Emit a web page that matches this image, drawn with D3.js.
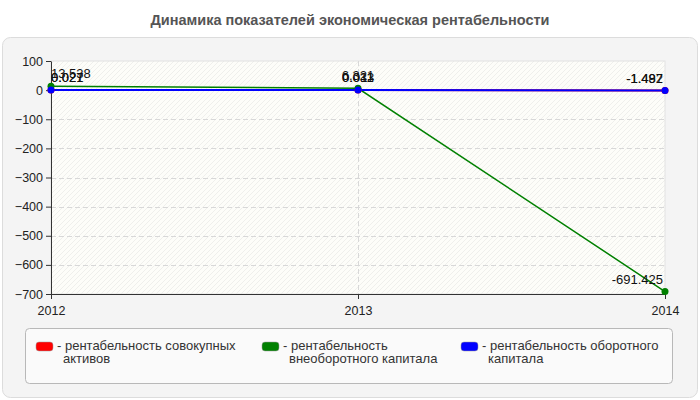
<!DOCTYPE html>
<html><head><meta charset="utf-8">
<script src="https://cdn.jsdelivr.net/npm/d3@7"></script>
<style>body{margin:0;background:#fff}svg{display:block;font-family:"Liberation Sans",Arial,sans-serif}</style>
</head><body>
<svg id="c" width="700" height="400"></svg>
<script>
const years = ["2012","2013","2014"];
const seriesNames = ["рентабельность совокупных активов","рентабельность внеоборотного капитала","рентабельность оборотного капитала"];
const seriesColors = ["#ff0000","#008000","#0000ff"];
const totalAssets = [0.027, 0.033, -1.487];
const nonCurrent = [13.538, 6.321, -691.425];
const current = [0.021, 0.011, -1.492];
const yTicks = [100,0,-100,-200,-300,-400,-500,-600,-700];
const legendLines = [["- рентабельность совокупных","активов"],["- рентабельность","внеоборотного капитала"],["- рентабельность оборотного","капитала"]];

const svg = d3.select("#c");
const series = [totalAssets, nonCurrent, current];
const M = {l:51, r:665, t:61, b:294};

svg.append("text").attr("x",350).attr("y",25).attr("text-anchor","middle")
  .attr("font-size",14.5).attr("font-weight","bold").attr("fill","#555").text("Динамика показателей экономическая рентабельности");

svg.append("rect").attr("x",2.5).attr("y",37.5).attr("width",695).attr("height",360).attr("rx",8)
  .attr("fill","#f4f4f4").attr("stroke","#dcdcdc");

const defs = svg.append("defs");
const pat = defs.append("pattern").attr("id","hatch").attr("patternUnits","userSpaceOnUse").attr("width",5).attr("height",5);
pat.append("rect").attr("width",5).attr("height",5).attr("fill","#fdfdf9");
pat.append("path").attr("d","M-1,1 l2,-2 M0,5 l5,-5 M4,6 l2,-2").attr("stroke","#efefec").attr("stroke-width",1);

const x = d3.scalePoint().domain(years).range([M.l, M.r]);
const y = d3.scaleLinear().domain([-700,100]).range([M.b, M.t]);

svg.append("rect").attr("x",M.l).attr("y",M.t).attr("width",M.r-M.l).attr("height",M.b-M.t)
  .attr("fill","url(#hatch)").attr("stroke","#e2e2e2");

// grid
svg.append("g").selectAll("line").data(yTicks.filter(d=>d!==-700 && d!==100)).join("line")
  .attr("x1",M.l).attr("x2",M.r).attr("y1",d=>Math.round(y(d))+0.5).attr("y2",d=>Math.round(y(d))+0.5)
  .attr("stroke","#d8d8d8").attr("stroke-dasharray","5,3");
svg.append("line").attr("x1",Math.round(x("2013"))+0.5).attr("x2",Math.round(x("2013"))+0.5)
  .attr("y1",M.t).attr("y2",M.b).attr("stroke","#d8d8d8").attr("stroke-dasharray","5,3");

// axes
const ya = svg.append("g").attr("transform",`translate(${M.l},0)`)
  .call(d3.axisLeft(y).tickValues(yTicks).tickSize(5).tickSizeOuter(0).tickFormat(d3.format("d")));
ya.select(".domain").attr("stroke","#333");
ya.selectAll(".tick line").attr("stroke","#333");
ya.selectAll("text").attr("font-size",12.5).attr("fill","#222").attr("font-family","Liberation Sans, Arial, sans-serif");
const xa = svg.append("g").attr("transform",`translate(0,${M.b})`)
  .call(d3.axisBottom(x).tickSize(5).tickSizeOuter(0));
xa.select(".domain").attr("stroke","#333");
xa.selectAll(".tick line").attr("stroke","#333");
xa.selectAll("text").attr("font-size",12.5).attr("fill","#222").attr("dy","1em").attr("font-family","Liberation Sans, Arial, sans-serif");

// lines
const line = d3.line().x((d,i)=>x(years[i])).y(d=>y(d));
series.forEach((s,k)=>{
  svg.append("path").datum(s).attr("d",line).attr("fill","none").attr("stroke",seriesColors[k]).attr("stroke-width",k===1?1.5:2);
});
series.forEach((s,k)=>{
  svg.append("g").selectAll("circle").data(s).join("circle")
    .attr("cx",(d,i)=>x(years[i])).attr("cy",d=>y(d)).attr("r",3.5).attr("fill",seriesColors[k]);
});
// labels
series.forEach((s,k)=>{
  svg.append("g").selectAll("text").data(s).join("text")
    .attr("x",(d,i)=>x(years[i])-(i===2?2:0))
    .attr("y",d=>y(d)-8)
    .attr("text-anchor",(d,i)=>i===0?"start":(i===2?"end":"middle"))
    .attr("font-size",13).attr("fill","#111")
    .text(d=>d3.format(".3f")(d).replace("−","-"));
});

// legend
svg.append("rect").attr("x",25.5).attr("y",328.5).attr("width",647).attr("height",55).attr("rx",4)
  .attr("fill","#fafafa").attr("stroke","#b8b8b8");
const lx = [36, 262, 461];
legendLines.forEach((ls,k)=>{
  svg.append("rect").attr("x",lx[k]).attr("y",342).attr("width",17).attr("height",9).attr("rx",3)
    .attr("fill",seriesColors[k]).attr("stroke","#999").attr("stroke-width",0.5);
  const t = svg.append("text").attr("x",lx[k]+21).attr("y",350).attr("font-size",13).attr("fill","#333");
  ls.forEach((l,j)=>{
    t.append("tspan").attr("x",lx[k]+21+(j?6:0)).attr("dy",j?13:0).text(l);
  });
});
</script>
</body></html>
